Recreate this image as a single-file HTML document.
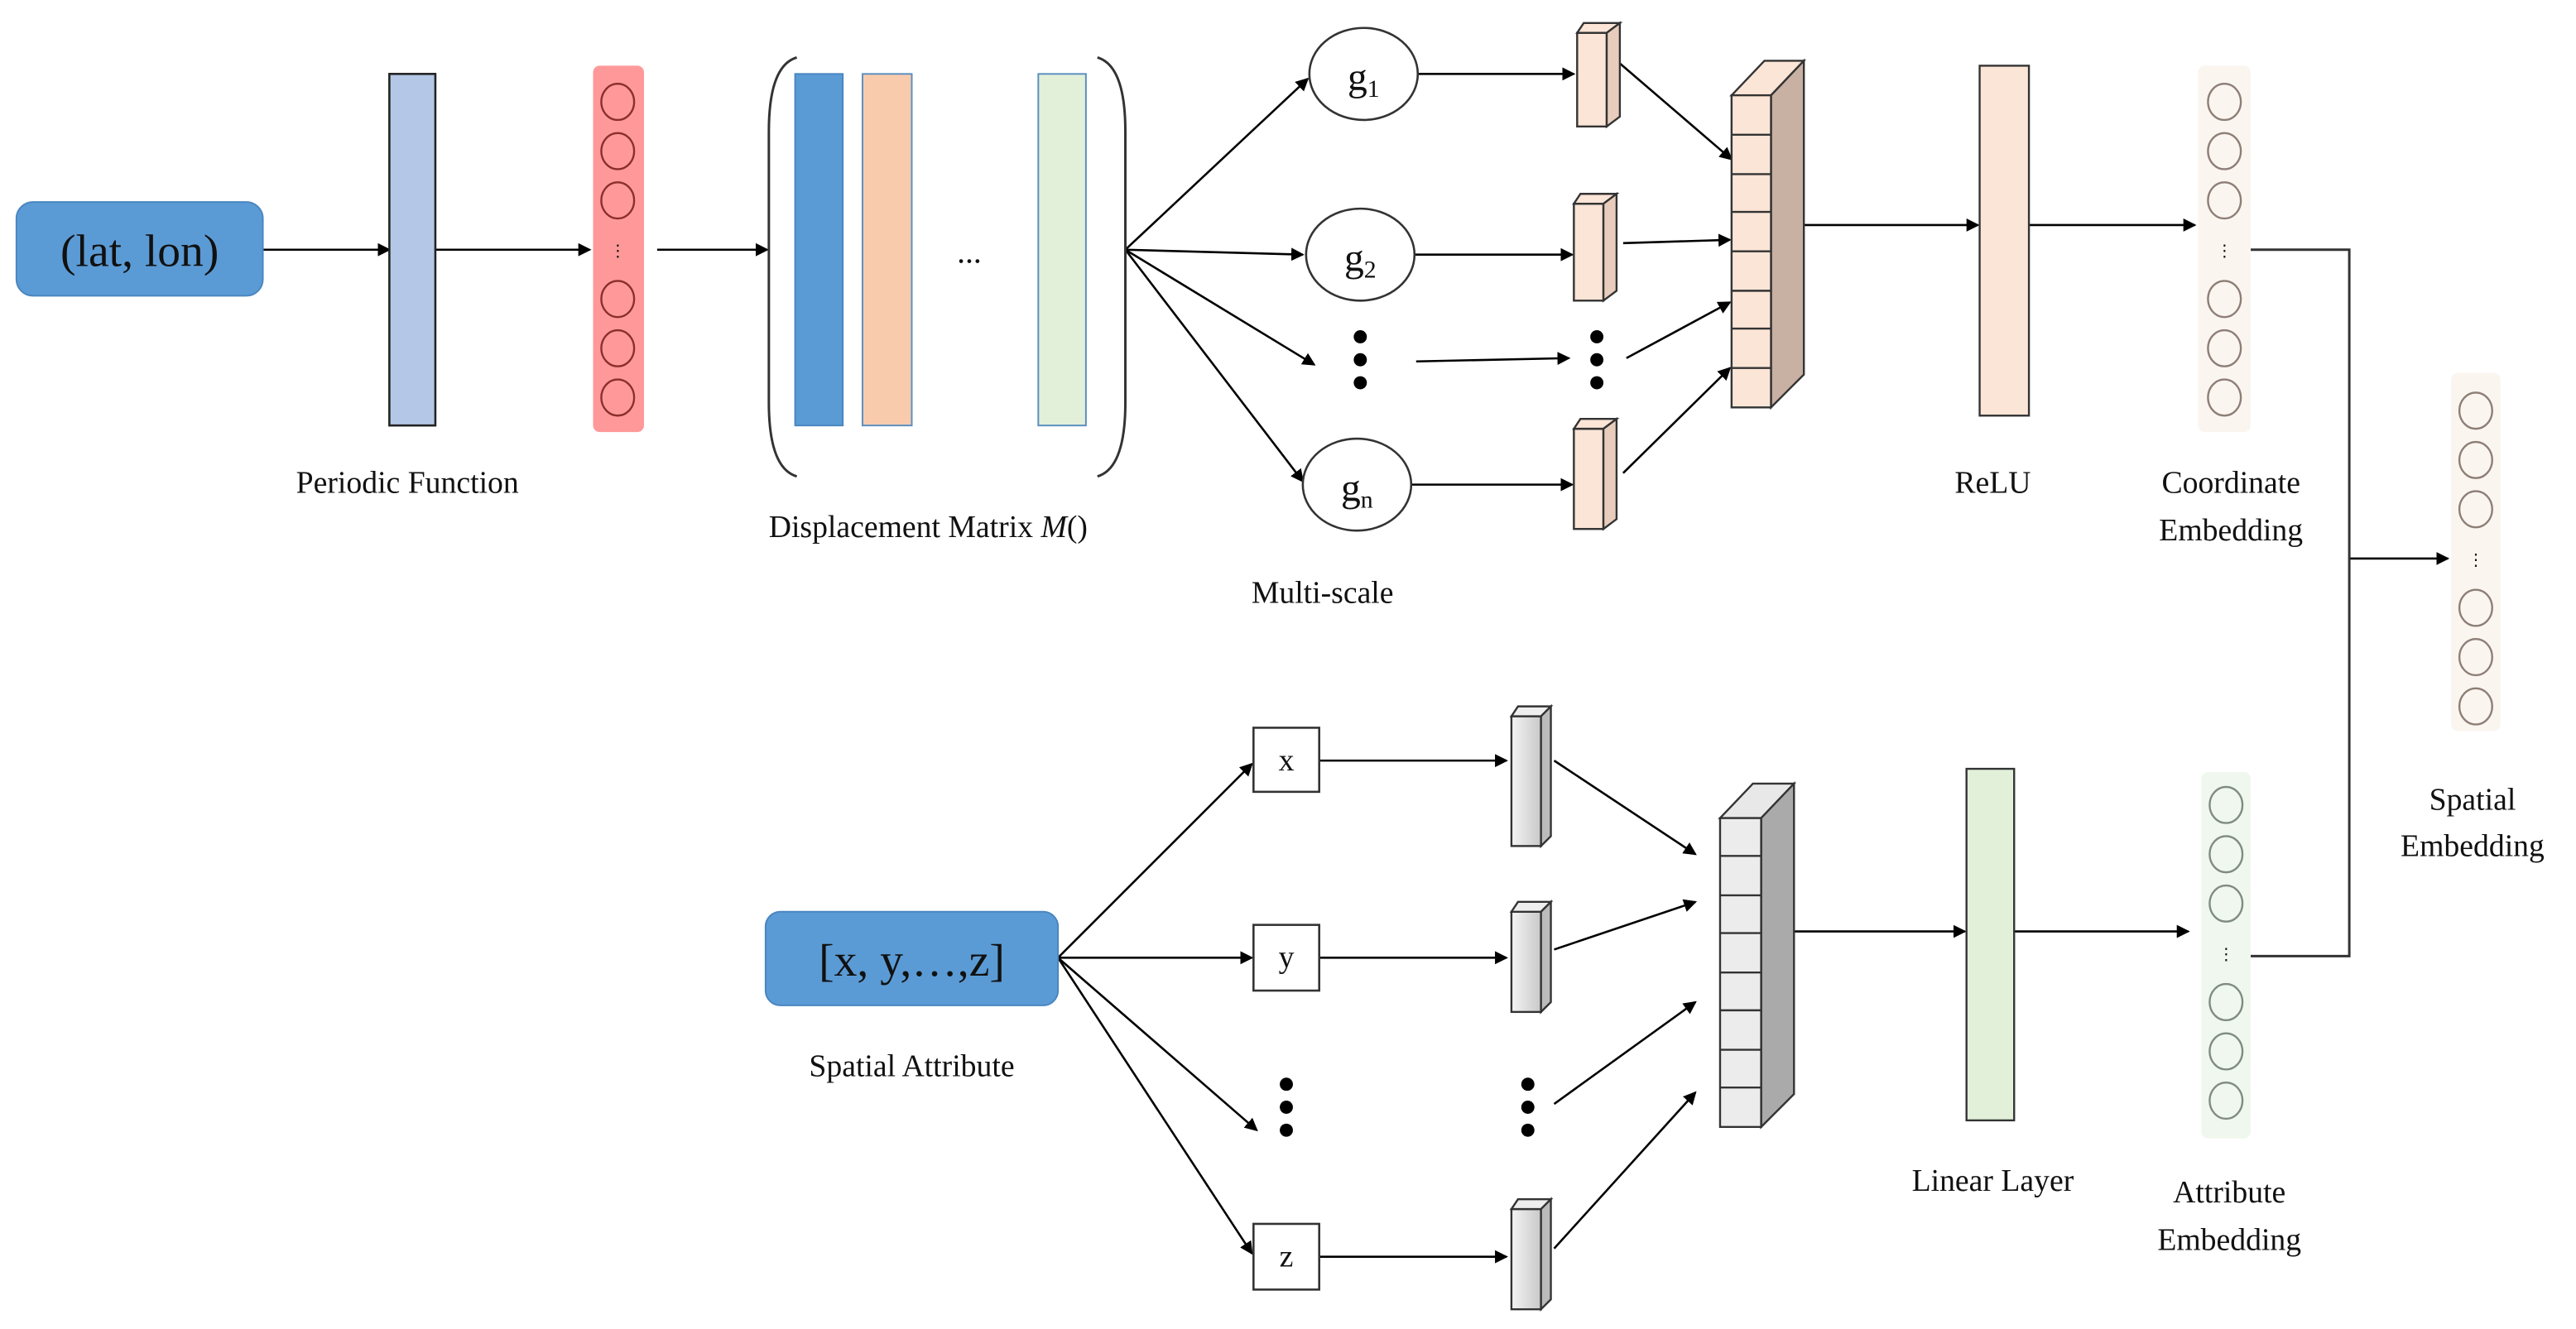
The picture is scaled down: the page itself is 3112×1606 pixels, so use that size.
<!DOCTYPE html>
<html><head><meta charset="utf-8"><style>
html,body{margin:0;padding:0;background:#fff}
svg{display:block}
text{font-family:"Liberation Serif",serif;fill:#111}
</style></head><body>
<svg width="3112" height="1606" viewBox="0 0 1568 809" preserveAspectRatio="none" xmlns="http://www.w3.org/2000/svg">
<defs>
<marker id="a" markerWidth="8" markerHeight="8" refX="7" refY="4" orient="auto" markerUnits="userSpaceOnUse">
<path d="M0,0 L8,4 L0,8 z" fill="#000"/></marker>
</defs>
<g stroke="#000" stroke-width="1.3" fill="none" marker-end="url(#a)">
<line x1="160" y1="152" x2="237" y2="152"/>
<line x1="265" y1="152" x2="359" y2="152"/>
<line x1="400" y1="152" x2="467" y2="152"/>
<line x1="685" y1="152" x2="796" y2="48"/>
<line x1="685" y1="152" x2="793" y2="155"/>
<line x1="685" y1="152" x2="800" y2="222"/>
<line x1="685" y1="152" x2="793" y2="293"/>
<line x1="863" y1="45" x2="958" y2="45"/>
<line x1="861" y1="155" x2="957" y2="155"/>
<line x1="862" y1="220" x2="955" y2="218"/>
<line x1="859" y1="295" x2="957" y2="295"/>
<line x1="983" y1="36" x2="1054" y2="97"/>
<line x1="988" y1="148" x2="1053" y2="146"/>
<line x1="990" y1="218" x2="1053" y2="184"/>
<line x1="988" y1="288" x2="1053" y2="224"/>
<line x1="1098" y1="137" x2="1204" y2="137"/>
<line x1="1235" y1="137" x2="1336" y2="137"/>
<line x1="1430" y1="340" x2="1490" y2="340"/>
<line x1="644" y1="583" x2="762" y2="465"/>
<line x1="644" y1="583" x2="762" y2="583"/>
<line x1="644" y1="583" x2="765" y2="688"/>
<line x1="644" y1="583" x2="762" y2="763"/>
<line x1="803" y1="463" x2="917" y2="463"/>
<line x1="803" y1="583" x2="917" y2="583"/>
<line x1="803" y1="765" x2="917" y2="765"/>
<line x1="946" y1="463" x2="1032" y2="520"/>
<line x1="946" y1="578" x2="1032" y2="549"/>
<line x1="946" y1="672" x2="1032" y2="610"/>
<line x1="946" y1="760" x2="1032" y2="665"/>
<line x1="1092" y1="567" x2="1196" y2="567"/>
<line x1="1226" y1="567" x2="1332" y2="567"/>
</g>
<polyline points="1370,152 1430,152 1430,582 1370,582" stroke="#333" stroke-width="1.5" fill="none"/>

<!-- lat lon -->
<rect x="10" y="123" width="150" height="57" rx="10" fill="#5b9bd5" stroke="#4a86c0"/>
<text x="85" y="162" font-size="28" text-anchor="middle">(lat, lon)</text>
<rect x="237" y="45" width="28" height="214" fill="#b4c7e7" stroke="#222" stroke-width="1.3"/>
<text x="248" y="300" font-size="19" text-anchor="middle">Periodic Function</text>
<rect x="361" y="40" width="31" height="223" rx="4" fill="#ff9999"/>
<g fill="none" stroke="#8b2e2e" stroke-width="1.2">
<ellipse cx="376" cy="62" rx="10" ry="11"/><ellipse cx="376" cy="92" rx="10" ry="11"/><ellipse cx="376" cy="122" rx="10" ry="11"/>
<ellipse cx="376" cy="182" rx="10" ry="11"/><ellipse cx="376" cy="212" rx="10" ry="11"/><ellipse cx="376" cy="242" rx="10" ry="11"/>
</g>
<text x="376" y="156" font-size="10" text-anchor="middle" fill="#8b2e2e">⋮</text>
<path d="M485,35 Q468,40 468,80 L468,245 Q468,285 485,290" stroke="#333" stroke-width="1.5" fill="none"/>
<path d="M668,35 Q685,40 685,80 L685,245 Q685,285 668,290" stroke="#333" stroke-width="1.5" fill="none"/>
<rect x="484" y="45" width="29" height="214" fill="#5b9bd5" stroke="#4a86c0"/>
<rect x="525" y="45" width="30" height="214" fill="#f8cbad" stroke="#5b8fc0"/>
<rect x="632" y="45" width="29" height="214" fill="#e2f0d9" stroke="#5b8fc0"/>
<text x="590" y="160" font-size="20" text-anchor="middle">...</text>
<text x="565" y="327" font-size="19" text-anchor="middle">Displacement Matrix <tspan font-style="italic">M</tspan>()</text>

<g fill="#fff" stroke="#333" stroke-width="1.3">
<ellipse cx="830" cy="45" rx="33" ry="28"/><ellipse cx="828" cy="155" rx="33" ry="28"/><ellipse cx="826" cy="295" rx="33" ry="28"/>
</g>
<text x="830" y="55" font-size="24" text-anchor="middle">g<tspan font-size="15" dy="4">1</tspan></text>
<text x="828" y="165" font-size="24" text-anchor="middle">g<tspan font-size="15" dy="4">2</tspan></text>
<text x="826" y="305" font-size="24" text-anchor="middle">g<tspan font-size="15" dy="4">n</tspan></text>
<g fill="#000">
<circle cx="828" cy="205" r="4"/><circle cx="828" cy="219" r="4"/><circle cx="828" cy="233" r="4"/>
<circle cx="972" cy="205" r="4"/><circle cx="972" cy="219" r="4"/><circle cx="972" cy="233" r="4"/>
<circle cx="783" cy="660" r="4"/><circle cx="783" cy="674" r="4"/><circle cx="783" cy="688" r="4"/>
<circle cx="930" cy="660" r="4"/><circle cx="930" cy="674" r="4"/><circle cx="930" cy="688" r="4"/>
</g>
<text x="805" y="367" font-size="19" text-anchor="middle">Multi-scale</text>

<!-- small peach 3d boxes -->
<g stroke="#333" stroke-width="1.2">
<g fill="#fbe5d6"><rect x="960" y="20" width="18" height="57"/><polygon points="960,20 964,14 986,14 978,20"/><polygon fill="#e8cdbd" points="978,20 986,14 986,71 978,77"/></g>
<g fill="#fbe5d6"><rect x="958" y="124" width="18" height="59"/><polygon points="958,124 962,118 984,118 976,124"/><polygon fill="#e8cdbd" points="976,124 984,118 984,177 976,183"/></g>
<g fill="#fbe5d6"><rect x="958" y="261" width="18" height="61"/><polygon points="958,261 962,255 984,255 976,261"/><polygon fill="#e8cdbd" points="976,261 984,255 984,316 976,322"/></g>
</g>
<!-- big peach column -->
<g stroke="#333" stroke-width="1.2">
<polygon fill="#fbe5d6" points="1054,58 1074,37 1098,37 1078,58"/>
<polygon fill="#c8b0a3" points="1078,58 1098,37 1098,228 1078,248"/>
<rect x="1054" y="58" width="24" height="190" fill="#fbe5d6"/>
<path d="M1054,82 H1078 M1054,106 H1078 M1054,129 H1078 M1054,153 H1078 M1054,177 H1078 M1054,200 H1078 M1054,224 H1078" fill="none"/>
</g>
<rect x="1205" y="40" width="30" height="213" fill="#fbe5d6" stroke="#333" stroke-width="1.2"/>
<text x="1213" y="300" font-size="19" text-anchor="middle">ReLU</text>
<rect x="1338" y="40" width="32" height="223" rx="4" fill="#fbf5f0"/>
<g fill="none" stroke="#8d7f76" stroke-width="1.2">
<ellipse cx="1354" cy="62" rx="10" ry="11"/><ellipse cx="1354" cy="92" rx="10" ry="11"/><ellipse cx="1354" cy="122" rx="10" ry="11"/>
<ellipse cx="1354" cy="182" rx="10" ry="11"/><ellipse cx="1354" cy="212" rx="10" ry="11"/><ellipse cx="1354" cy="242" rx="10" ry="11"/>
</g>
<text x="1354" y="156" font-size="10" text-anchor="middle" fill="#999">⋮</text>
<text x="1358" y="300" font-size="19" text-anchor="middle">Coordinate</text>
<text x="1358" y="329" font-size="19" text-anchor="middle">Embedding</text>

<rect x="1492" y="227" width="30" height="218" rx="4" fill="#fbf5f0"/>
<g fill="none" stroke="#8d7f76" stroke-width="1.2">
<ellipse cx="1507" cy="250" rx="10" ry="11"/><ellipse cx="1507" cy="280" rx="10" ry="11"/><ellipse cx="1507" cy="310" rx="10" ry="11"/>
<ellipse cx="1507" cy="370" rx="10" ry="11"/><ellipse cx="1507" cy="400" rx="10" ry="11"/><ellipse cx="1507" cy="430" rx="10" ry="11"/>
</g>
<text x="1507" y="344" font-size="10" text-anchor="middle" fill="#999">⋮</text>
<text x="1505" y="493" font-size="19" text-anchor="middle">Spatial</text>
<text x="1505" y="521" font-size="19" text-anchor="middle">Embedding</text>

<!-- bottom -->
<rect x="466" y="555" width="178" height="57" rx="9" fill="#5b9bd5" stroke="#4a86c0"/>
<text x="555" y="594" font-size="28" text-anchor="middle">[x, y,…,z]</text>
<text x="555" y="655" font-size="19" text-anchor="middle">Spatial Attribute</text>
<g fill="#fff" stroke="#333" stroke-width="1.3">
<rect x="763" y="443" width="40" height="39"/><rect x="763" y="563" width="40" height="40"/><rect x="763" y="745" width="40" height="40"/>
</g>
<text x="783" y="469" font-size="19" text-anchor="middle">x</text>
<text x="783" y="589" font-size="19" text-anchor="middle">y</text>
<text x="783" y="771" font-size="19" text-anchor="middle">z</text>
<defs><linearGradient id="gg" x1="0" x2="1"><stop offset="0" stop-color="#f4f4f4"/><stop offset="1" stop-color="#c8c8c8"/></linearGradient></defs>
<g stroke="#333" stroke-width="1.2">
<g><rect x="920" y="436" width="18" height="79" fill="url(#gg)"/><polygon fill="#eee" points="920,436 924,430 944,430 938,436"/><polygon fill="#bbb" points="938,436 944,430 944,509 938,515"/></g>
<g><rect x="920" y="555" width="18" height="61" fill="url(#gg)"/><polygon fill="#eee" points="920,555 924,549 944,549 938,555"/><polygon fill="#bbb" points="938,555 944,549 944,610 938,616"/></g>
<g><rect x="920" y="736" width="18" height="61" fill="url(#gg)"/><polygon fill="#eee" points="920,736 924,730 944,730 938,736"/><polygon fill="#bbb" points="938,736 944,730 944,791 938,797"/></g>
</g>
<g stroke="#333" stroke-width="1.2">
<polygon fill="#e8e8e8" points="1047,498 1067,477 1092,477 1072,498"/>
<polygon fill="#aaa" points="1072,498 1092,477 1092,666 1072,686"/>
<rect x="1047" y="498" width="25" height="188" fill="#ececec"/>
<path d="M1047,521 H1072 M1047,545 H1072 M1047,568 H1072 M1047,592 H1072 M1047,615 H1072 M1047,639 H1072 M1047,662 H1072" fill="none"/>
</g>
<rect x="1197" y="468" width="29" height="214" fill="#e2f0d9" stroke="#333" stroke-width="1.2"/>
<text x="1213" y="725" font-size="19" text-anchor="middle">Linear Layer</text>
<rect x="1340" y="470" width="30" height="223" rx="4" fill="#f0f7ee"/>
<g fill="none" stroke="#7f8c7f" stroke-width="1.2">
<ellipse cx="1355" cy="490" rx="10" ry="11"/><ellipse cx="1355" cy="520" rx="10" ry="11"/><ellipse cx="1355" cy="550" rx="10" ry="11"/>
<ellipse cx="1355" cy="610" rx="10" ry="11"/><ellipse cx="1355" cy="640" rx="10" ry="11"/><ellipse cx="1355" cy="670" rx="10" ry="11"/>
</g>
<text x="1355" y="584" font-size="10" text-anchor="middle" fill="#999">⋮</text>
<text x="1357" y="732" font-size="19" text-anchor="middle">Attribute</text>
<text x="1357" y="761" font-size="19" text-anchor="middle">Embedding</text>
</svg>
</body></html>
